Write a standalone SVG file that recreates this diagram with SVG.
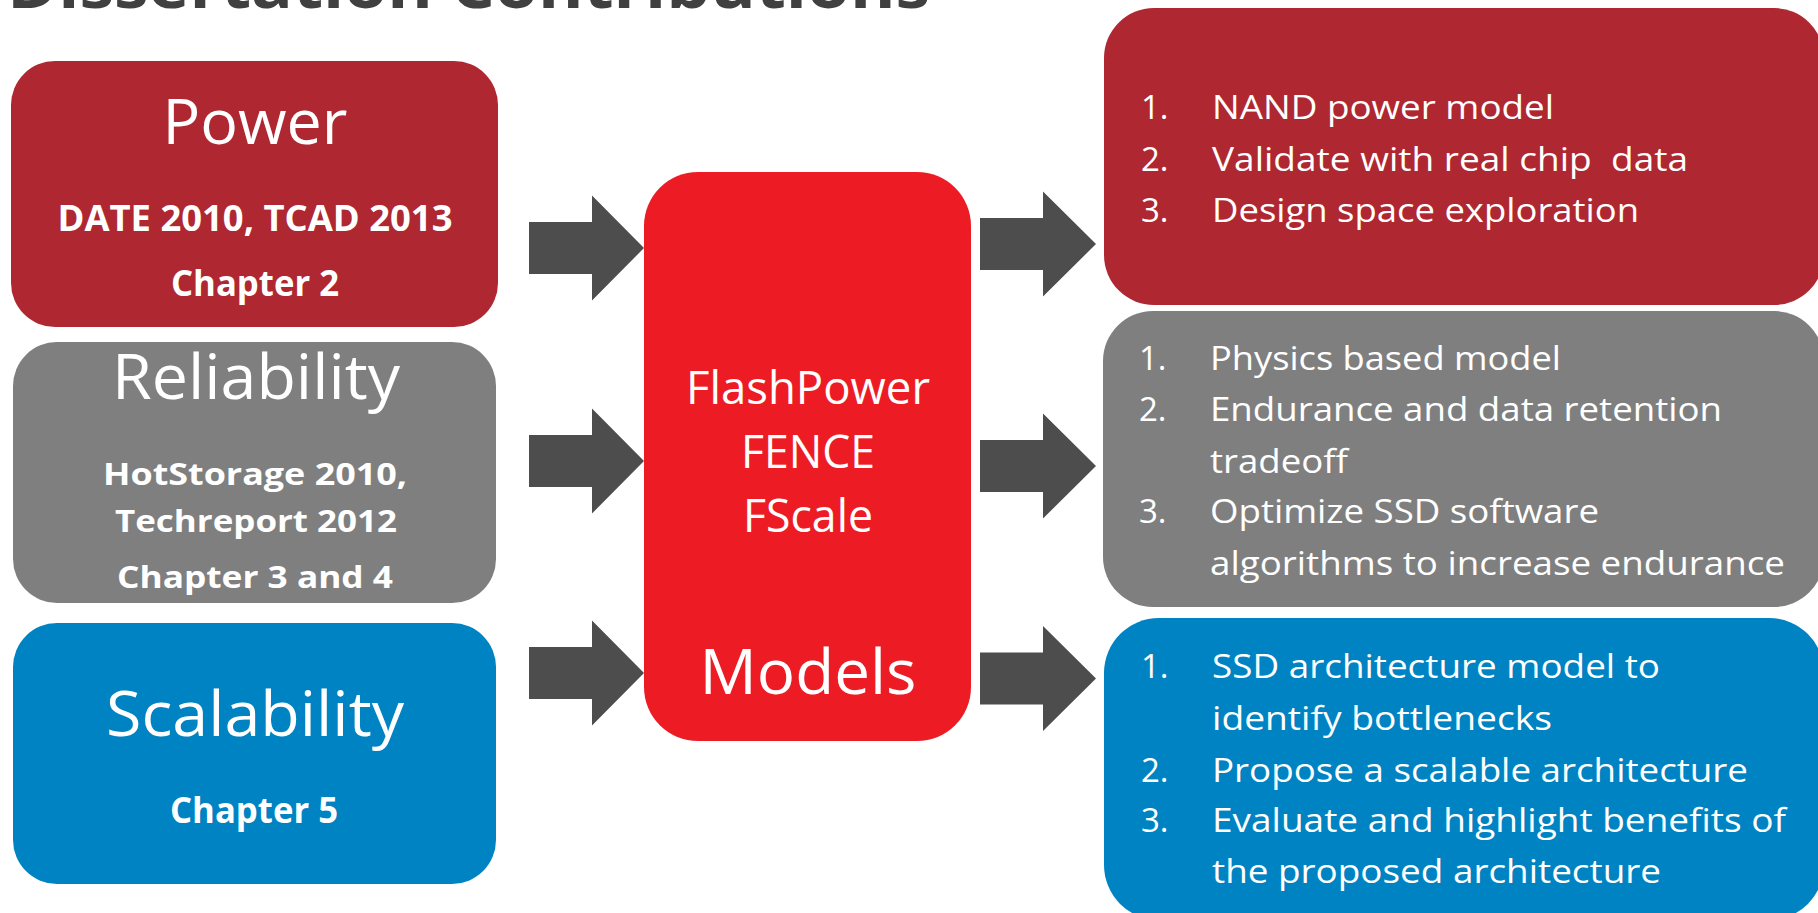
<svg xmlns="http://www.w3.org/2000/svg" width="1818" height="913" viewBox="0 0 1818 913">
  <style>
    .t { font-family: "Open Sans", "Noto Sans", "Liberation Sans", sans-serif; fill: #ffffff; }
    .b { font-weight: bold; }
    .mid { text-anchor: middle; }
    .head { font-size: 63px; }
    .sub { font-size: 35px; font-weight: bold; }
    .sub2 { font-size: 31px; font-weight: bold; }
    .core { font-size: 46px; }
    .item { font-size: 33px; }
    .title { font-family: "Open Sans", "Liberation Sans", sans-serif; font-weight: bold; font-size: 62px; fill: #404040; }
    .arrow { fill: #4d4d4d; }
    .red { fill: #af2731; }
    .gray { fill: #7f7f7f; }
    .blue { fill: #0083c2; }
    .core-fill { fill: #ed1c24; }
  </style>

  <rect width="1818" height="913" fill="#ffffff"/>

  <!-- page heading, partly above the top edge -->
  <text class="title" x="7" y="8" textLength="923" lengthAdjust="spacingAndGlyphs">Dissertation Contributions</text>

  <!-- left column: research themes -->
  <g id="power">
    <rect class="red" x="11" y="61" width="487" height="266" rx="44"/>
    <text class="t head mid" x="255" y="144" textLength="185" lengthAdjust="spacingAndGlyphs">Power</text>
    <text class="t sub mid" x="255" y="231" textLength="395" lengthAdjust="spacingAndGlyphs">DATE 2010, TCAD 2013</text>
    <text class="t sub mid" x="255" y="296" textLength="168" lengthAdjust="spacingAndGlyphs">Chapter 2</text>
  </g>

  <g id="reliability">
    <rect class="gray" x="13" y="342" width="483" height="261" rx="44"/>
    <text class="t head mid" x="256" y="399" textLength="288" lengthAdjust="spacingAndGlyphs">Reliability</text>
    <text class="t sub2 mid" x="255" y="485" textLength="304" lengthAdjust="spacingAndGlyphs">HotStorage 2010,</text>
    <text class="t sub2 mid" x="256" y="532" textLength="282" lengthAdjust="spacingAndGlyphs">Techreport 2012</text>
    <text class="t sub2 mid" x="255" y="588" textLength="276" lengthAdjust="spacingAndGlyphs">Chapter 3 and 4</text>
  </g>

  <g id="scalability">
    <rect class="blue" x="13" y="623" width="483" height="261" rx="44"/>
    <text class="t head mid" x="255" y="736" textLength="298" lengthAdjust="spacingAndGlyphs">Scalability</text>
    <text class="t sub mid" x="254" y="823" textLength="168" lengthAdjust="spacingAndGlyphs">Chapter 5</text>
  </g>

  <!-- centre: the models -->
  <g id="models">
    <rect class="core-fill" x="644" y="172" width="327" height="569" rx="54"/>
    <text class="t core mid" x="808" y="404" textLength="244" lengthAdjust="spacingAndGlyphs">FlashPower</text>
    <text class="t core mid" x="808" y="468" textLength="134" lengthAdjust="spacingAndGlyphs">FENCE</text>
    <text class="t core mid" x="808" y="532" textLength="130" lengthAdjust="spacingAndGlyphs">FScale</text>
    <text class="t head mid" x="808" y="694" textLength="217" lengthAdjust="spacingAndGlyphs">Models</text>
  </g>

  <!-- right column: outcomes -->
  <g id="power-outcomes">
    <rect class="red" x="1104" y="8" width="720" height="297" rx="50"/>
    <text class="t item" x="1141" y="119">1.</text>
    <text class="t item" x="1212" y="119" textLength="342" lengthAdjust="spacingAndGlyphs">NAND power model</text>
    <text class="t item" x="1141" y="171">2.</text>
    <text class="t item" x="1212" y="171" textLength="476" lengthAdjust="spacingAndGlyphs" xml:space="preserve">Validate with real chip  data</text>
    <text class="t item" x="1141" y="222">3.</text>
    <text class="t item" x="1212" y="222" textLength="427" lengthAdjust="spacingAndGlyphs">Design space exploration</text>
  </g>

  <g id="reliability-outcomes">
    <rect class="gray" x="1103" y="311" width="721" height="296" rx="50"/>
    <text class="t item" x="1139" y="370">1.</text>
    <text class="t item" x="1210" y="370" textLength="351" lengthAdjust="spacingAndGlyphs">Physics based model</text>
    <text class="t item" x="1139" y="421">2.</text>
    <text class="t item" x="1210" y="421" textLength="512" lengthAdjust="spacingAndGlyphs">Endurance and data retention</text>
    <text class="t item" x="1210" y="473" textLength="138" lengthAdjust="spacingAndGlyphs">tradeoff</text>
    <text class="t item" x="1139" y="523">3.</text>
    <text class="t item" x="1210" y="523" textLength="389" lengthAdjust="spacingAndGlyphs">Optimize SSD software</text>
    <text class="t item" x="1210" y="575" textLength="575" lengthAdjust="spacingAndGlyphs">algorithms to increase endurance</text>
  </g>

  <g id="scalability-outcomes">
    <rect class="blue" x="1104" y="618" width="720" height="302" rx="55"/>
    <text class="t item" x="1141" y="678">1.</text>
    <text class="t item" x="1212" y="678" textLength="448" lengthAdjust="spacingAndGlyphs">SSD architecture model to</text>
    <text class="t item" x="1212" y="730" textLength="340" lengthAdjust="spacingAndGlyphs">identify bottlenecks</text>
    <text class="t item" x="1141" y="782">2.</text>
    <text class="t item" x="1212" y="782" textLength="536" lengthAdjust="spacingAndGlyphs">Propose a scalable architecture</text>
    <text class="t item" x="1141" y="832">3.</text>
    <text class="t item" x="1212" y="832" textLength="574" lengthAdjust="spacingAndGlyphs">Evaluate and highlight benefits of</text>
    <text class="t item" x="1212" y="883" textLength="449" lengthAdjust="spacingAndGlyphs">the proposed architecture</text>
  </g>

  <!-- block arrows: themes into models, models out to outcomes -->
  <g id="connectors">
    <polygon class="arrow" points="529,222 592,222 592,195.5 644,248 592,300.5 592,274 529,274"/>
    <polygon class="arrow" points="529,435 592,435 592,408.5 644,461 592,513.5 592,487 529,487"/>
    <polygon class="arrow" points="529,647 592,647 592,620.5 644,673 592,725.5 592,699 529,699"/>
    <polygon class="arrow" points="980,218 1043,218 1043,191.5 1096,244 1043,296.5 1043,270 980,270"/>
    <polygon class="arrow" points="980,440 1043,440 1043,413.5 1096,466 1043,518.5 1043,492 980,492"/>
    <polygon class="arrow" points="980,652.5 1043,652.5 1043,626 1096,678.5 1043,731 1043,704.5 980,704.5"/>
  </g>
</svg>
